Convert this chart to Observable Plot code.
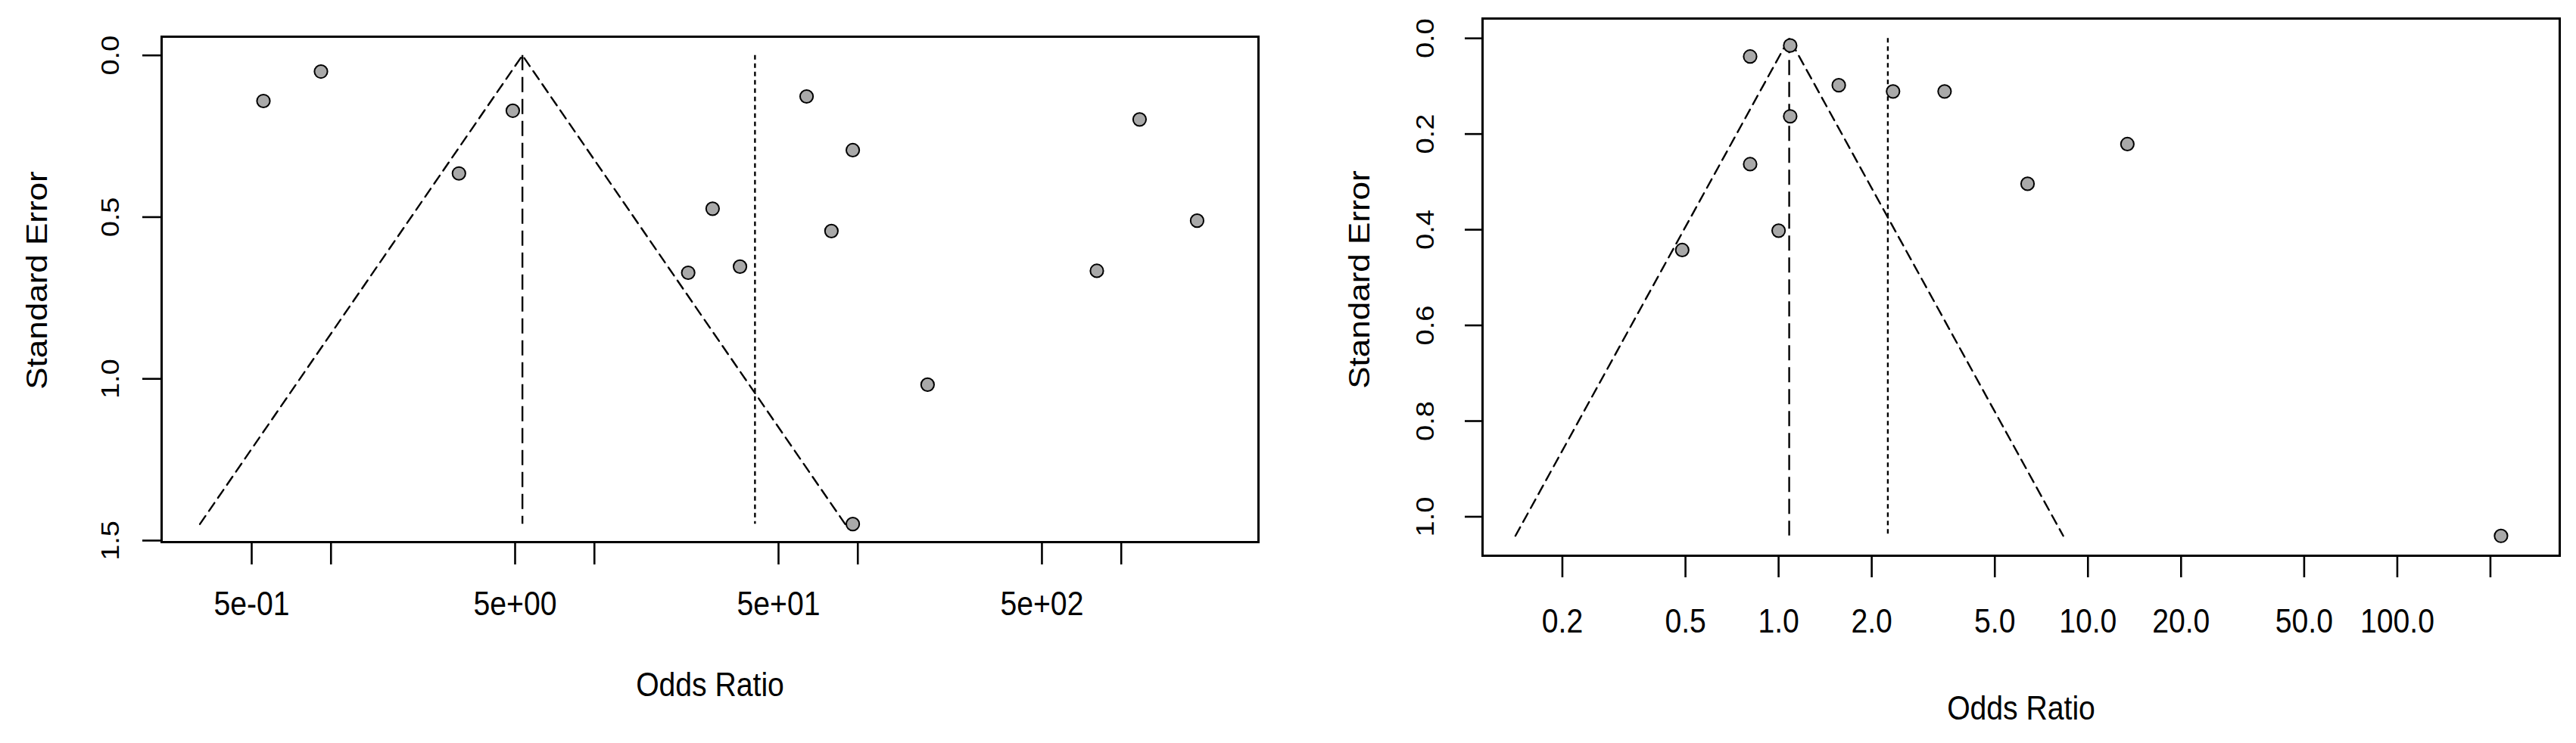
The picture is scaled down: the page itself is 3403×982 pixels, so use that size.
<!DOCTYPE html>
<html><head><meta charset="utf-8">
<script src="https://cdn.jsdelivr.net/npm/d3@7"></script>
<script src="https://cdn.jsdelivr.net/npm/@observablehq/plot@0.6"></script>
<style>
html,body{margin:0;padding:0;background:#fff;color:#000;}
#wrap{position:relative;width:3403px;height:982px;overflow:hidden;background:#fff;}
#left{position:absolute;left:0;top:0;}
#right{position:absolute;left:1700px;top:0;}
</style></head><body>
<div id="wrap"><div id="left"></div><div id="right"></div></div>
<script>
// ---------- Left funnel plot ----------
const leftOddsRatio = [0.554, 0.916, 4.90, 3.06, 63.9, 95.7, 28.1, 79.4, 22.7, 35.7, 1174, 1941, 808, 184, 95.7];
const leftStdErr    = [0.141, 0.050, 0.171, 0.365, 0.127, 0.293, 0.474, 0.543, 0.672, 0.653, 0.198, 0.511, 0.666, 1.018, 1.449];
const leftFunnelOR  = [0.318, 5.33, 89.5];
const leftFunnelSE  = [1.449, 0, 1.449];
const leftFixedOR   = 5.33;   // dashed vertical
const leftRandomOR  = 40.7;   // dotted vertical
const leftMaxSE     = 1.449;
const leftXTicks    = [0.5, 1, 5, 10, 50, 100, 500, 1000];
const leftXLabels   = ["5e-01", "", "5e+00", "", "5e+01", "", "5e+02", ""];
const leftYTicks    = [0, 0.5, 1, 1.5];
const leftYLabels   = ["0.0", "0.5", "1.0", "1.5"];

// ---------- Right funnel plot ----------
const rightOddsRatio = [1.09, 0.809, 1.565, 2.344, 3.44, 1.09, 0.809, 1.0, 0.488, 13.41, 6.38, 216.4];
const rightStdErr    = [0.015, 0.038, 0.098, 0.111, 0.111, 0.163, 0.263, 0.402, 0.4425, 0.221, 0.304, 1.040];
const rightFunnelOR  = [0.141, 1.082, 8.32];
const rightFunnelSE  = [1.04, 0, 1.04];
const rightFixedOR   = 1.082;
const rightRandomOR  = 2.255;
const rightMaxSE     = 1.04;
const rightXTicks    = [0.2, 0.5, 1, 2, 5, 10, 20, 50, 100, 200];
const rightXLabels   = ["0.2", "0.5", "1.0", "2.0", "5.0", "10.0", "20.0", "50.0", "100.0", ""];
const rightYTicks    = [0, 0.2, 0.4, 0.6, 0.8, 1.0];
const rightYLabels   = ["0.0", "0.2", "0.4", "0.6", "0.8", "1.0"];

const xTitle = "Odds Ratio";
const yTitle = "Standard Error";

const FONT = "'Liberation Sans', Arial, Helvetica, sans-serif";

function makeFunnel(cfg) {
  const pts = cfg.or.map((v, i) => ({or: v, se: cfg.se[i]}));
  const funnel = cfg.fOR.map((v, i) => ({or: v, se: cfg.fSE[i]}));
  const xLab = cfg.xTicks.map((t, i) => ({v: t, label: cfg.xLabels[i]})).filter(d => d.label);
  const yl = new Map(cfg.yTicks.map((t, i) => [t, cfg.yLabels[i]]));
  return Plot.plot({
    width: cfg.width, height: 982,
    marginLeft: cfg.ml, marginRight: cfg.mr, marginTop: cfg.mt, marginBottom: cfg.mb,
    style: {fontFamily: FONT, background: "white", color: "black", overflow: "visible"},
    x: {type: "log", domain: cfg.xDomain},
    y: {domain: cfg.yDomain, reverse: true},
    marks: [
      Plot.line(funnel, {x: "or", y: "se", stroke: "black", strokeWidth: 2.4, strokeDasharray: "13,8"}),
      Plot.ruleX([cfg.fixed], {y1: 0, y2: cfg.maxSE, stroke: "black", strokeWidth: 2.4, strokeDasharray: "20,9"}),
      Plot.ruleX([cfg.random], {y1: 0, y2: cfg.maxSE, stroke: "black", strokeWidth: 2.4, strokeDasharray: "6,5"}),
      Plot.dot(pts, {x: "or", y: "se", r: 8.6, fill: "#a9a9a9", stroke: "black", strokeWidth: 2}),
      Plot.frame({stroke: "black", strokeWidth: 3}),
      Plot.axisX({ticks: cfg.xTicks, tickFormat: () => "", tickSize: cfg.xTickSize, strokeWidth: 2.6, label: null}),
      Plot.text(xLab, {x: "v", text: "label", frameAnchor: "bottom", dy: cfg.xLabelDy, lineAnchor: "bottom",
                       textAnchor: "middle", fontSize: 45, fill: "black"}),
      Plot.axisY({ticks: cfg.yTicks, tickFormat: d => yl.get(d), tickSize: cfg.yTickSize, tickPadding: cfg.yTickPad,
                  tickRotate: -90, textAnchor: "middle", lineAnchor: "bottom",
                  fontSize: 38, strokeWidth: 2.6, label: null}),
      Plot.text([xTitle], {text: d => d, frameAnchor: "bottom", dy: cfg.xTitleDy, lineAnchor: "bottom",
                           textAnchor: "middle", fontSize: 45, fill: "black"}),
      Plot.text([yTitle], {text: d => d, frameAnchor: "left", dx: cfg.yTitleDx, dy: cfg.yTitleDy, rotate: -90,
                           lineAnchor: "bottom", textAnchor: "middle", fontSize: 44, fill: "black"})
    ]
  });
}

// narrow the glyphs horizontally (the reference's font is condensed)
function squeeze(svg, k) {
  svg.querySelectorAll("text").forEach(t => {
    const r = t.getBoundingClientRect();
    if (!r.width) return;
    const old = t.getAttribute("transform") || "";
    const rotated = /rotate/.test(old);
    const anchor = getComputedStyle(t).textAnchor;
    let sx;
    if (rotated || anchor === "end") sx = r.right;
    else if (anchor === "start") sx = r.left;
    else sx = (r.left + r.right) / 2;
    const pt = svg.createSVGPoint(); pt.x = sx; pt.y = r.top;
    const p = pt.matrixTransform(t.parentNode.getScreenCTM().inverse());
    t.setAttribute("transform", `translate(${p.x},0) scale(${k},1) translate(${-p.x},0) ${old}`);
  });
}

const leftChart = makeFunnel({
  or: leftOddsRatio, se: leftStdErr, fOR: leftFunnelOR, fSE: leftFunnelSE,
  fixed: leftFixedOR, random: leftRandomOR, maxSE: leftMaxSE,
  xTicks: leftXTicks, xLabels: leftXLabels, yTicks: leftYTicks, yLabels: leftYLabels,
  width: 1700, ml: 213, mr: 38, mt: 48, mb: 266,
  xDomain: [0.2275, 3319], yDomain: [-0.0578, 1.5048],
  xTickSize: 30, xLabelDy: 96, yTickSize: 25, yTickPad: 33,
  xTitleDy: 203, yTitleDx: -153, yTitleDy: -12
});
const rightChart = makeFunnel({
  or: rightOddsRatio, se: rightStdErr, fOR: rightFunnelOR, fSE: rightFunnelSE,
  fixed: rightFixedOR, random: rightRandomOR, maxSE: rightMaxSE,
  xTicks: rightXTicks, xLabels: rightXLabels, yTicks: rightYTicks, yLabels: rightYLabels,
  width: 1703, ml: 258, mr: 22, mt: 24, mb: 248,
  xDomain: [0.1104, 335], yDomain: [-0.0414, 1.0815],
  xTickSize: 29, xLabelDy: 101, yTickSize: 23, yTickPad: 43,
  xTitleDy: 216, yTitleDx: -151, yTitleDy: -10
});
document.getElementById("left").appendChild(leftChart);
document.getElementById("right").appendChild(rightChart);
squeeze(leftChart, 0.87);
squeeze(rightChart, 0.87);
</script>
</body></html>
